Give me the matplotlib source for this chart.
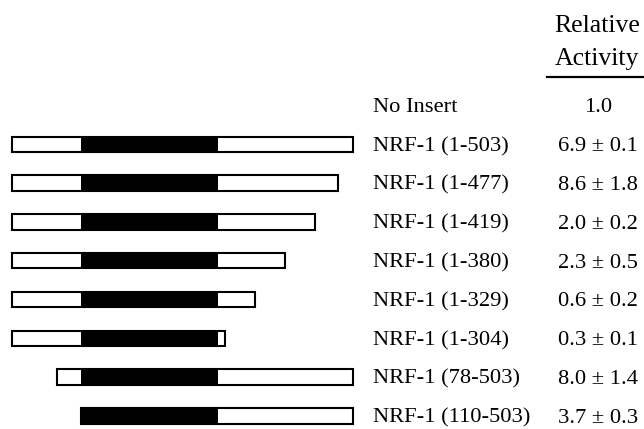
import matplotlib.pyplot as plt

plt.rcParams['font.family'] = ['Liberation Serif', 'DejaVu Serif']

# constructs (amino acid ranges) and measured relative activity
labels = ['No Insert', 'NRF-1 (1-503)', 'NRF-1 (1-477)', 'NRF-1 (1-419)',
          'NRF-1 (1-380)', 'NRF-1 (1-329)', 'NRF-1 (1-304)',
          'NRF-1 (78-503)', 'NRF-1 (110-503)']
activity = [1.0, 6.9, 8.6, 2.0, 2.3, 0.6, 0.3, 8.0, 3.7]
error = [None, 0.1, 1.8, 0.2, 0.5, 0.2, 0.1, 1.4, 0.3]

# schematic bar extents as drawn (not to scale), one per NRF-1 construct
bar_left = [12, 12, 12, 12, 12, 12, 57, 81]
bar_right = [353, 338, 315, 285, 255, 225, 353, 353]
# black (DNA binding) domain in the same schematic units
domain_left = 81
domain_right = 218

row0 = 105.5
row_step = 38.8
bar_h = 15.5
fs = 16.2

fig = plt.figure(figsize=(6.44, 4.29), dpi=100)
ax = fig.add_axes([0, 0, 1, 1])
ax.set_xlim(0, 644)
ax.set_ylim(429, 0)
ax.axis('off')

rows = [row0 + row_step * i for i in range(len(labels))]

# bars
for i in range(len(bar_left)):
    y = rows[i + 1]
    l, r = bar_left[i], bar_right[i]
    ax.barh(y, r - l, left=l, height=bar_h, color='white', linewidth=0)
    dl = max(domain_left, l)
    dr = min(domain_right, r)
    ax.barh(y, dr - dl, left=dl, height=bar_h, color='black', linewidth=0)
    ax.barh(y, r - l, left=l, height=bar_h, color='none',
            edgecolor='black', linewidth=1.5)

# labels and values
for i, lab in enumerate(labels):
    ax.text(373, rows[i] + 6.8, lab, fontsize=fs, va='baseline', ha='left')
    if error[i] is None:
        txt = f'{activity[i]:.1f}'
    else:
        txt = f'{activity[i]:.1f} ± {error[i]:.1f}'
    ax.text(598, rows[i] + 6.8, txt, fontsize=fs, va='baseline', ha='center')

# header
ax.text(597, 31.7, 'Relative', fontsize=18.5, va='baseline', ha='center')
ax.text(597, 65, 'Activity', fontsize=18.5, va='baseline', ha='center')
ax.plot([547, 644], [77, 77], color='black', linewidth=1.6)

fig.savefig('out.png', dpi=100)
